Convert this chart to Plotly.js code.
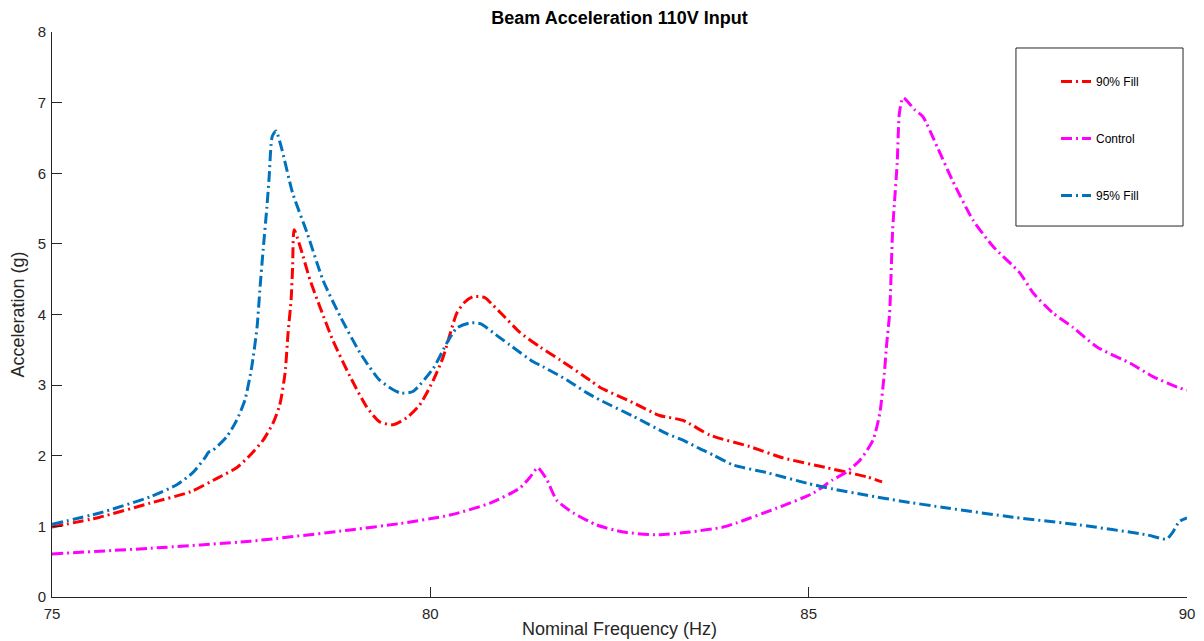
<!DOCTYPE html>
<html>
<head>
<meta charset="utf-8">
<script src="https://cdn.plot.ly/plotly-3.0.1.min.js"></script>
<style>
  html, body { margin: 0; padding: 0; background: #ffffff; }
  #chart { width: 1204px; height: 641px; }
</style>
</head>
<body>
<div id="chart"></div>
<script>
// ---- Data ----
const fill90_x = [75, 75.63, 76.3, 76.83, 77.18, 77.44, 77.62, 77.79, 77.92, 78.01, 78.08, 78.12, 78.16, 78.18, 78.2, 78.28, 78.41, 78.54, 78.71, 78.94, 79.16, 79.33, 79.51, 79.69, 79.86, 80.04, 80.17, 80.35, 80.45, 80.56, 80.72, 80.83, 80.96, 81.18, 81.45, 81.71, 82.11, 82.24, 82.68, 83.03, 83.34, 83.7, 84.22, 84.66, 85.24, 85.77, 85.97];
const fill90_y = [0.99, 1.13, 1.33, 1.49, 1.68, 1.83, 2.01, 2.22, 2.46, 2.72, 3.17, 3.74, 4.21, 4.67, 5.2, 4.96, 4.49, 4.11, 3.64, 3.12, 2.69, 2.48, 2.44, 2.54, 2.72, 3.07, 3.4, 4.02, 4.17, 4.25, 4.24, 4.13, 3.99, 3.75, 3.54, 3.36, 3.07, 2.97, 2.75, 2.57, 2.5, 2.29, 2.13, 1.97, 1.83, 1.70, 1.63];

const control_x = [75, 76.3, 77.62, 78.94, 79.6, 80.26, 80.79, 81.18, 81.32, 81.42, 81.54, 81.67, 81.89, 82.2, 82.55, 83.0, 83.43, 83.87, 84.05, 84.58, 85.06, 85.32, 85.5, 85.68, 85.85, 85.94, 86.0, 86.03, 86.07, 86.11, 86.17, 86.2, 86.25, 86.4, 86.51, 86.7, 86.9, 87.17, 87.44, 87.79, 87.97, 88.23, 88.49, 88.81, 89.25, 89.55, 89.9, 90];
const control_y = [0.61, 0.69, 0.79, 0.95, 1.04, 1.16, 1.33, 1.54, 1.70, 1.83, 1.66, 1.37, 1.19, 1.02, 0.92, 0.88, 0.92, 0.99, 1.05, 1.26, 1.47, 1.66, 1.77, 1.94, 2.22, 2.6, 3.17, 3.57, 4.02, 5.2, 6.15, 6.86, 7.07, 6.9, 6.8, 6.37, 5.9, 5.34, 4.96, 4.59, 4.3, 4.02, 3.82, 3.54, 3.31, 3.12, 2.96, 2.93];

const fill95_x = [75, 75.63, 76.3, 76.65, 76.86, 77.02, 77.07, 77.13, 77.31, 77.44, 77.55, 77.64, 77.71, 77.75, 77.79, 77.84, 77.87, 77.91, 77.96, 78.04, 78.18, 78.37, 78.58, 78.81, 79.07, 79.33, 79.6, 79.77, 80.04, 80.22, 80.35, 80.52, 80.66, 80.92, 81.05, 81.36, 81.49, 81.81, 82.07, 82.24, 82.68, 83.13, 83.34, 83.56, 83.74, 84.0, 84.45, 84.98, 85.32, 85.77, 86.21, 86.83, 87.7, 88.58, 89.47, 89.73, 89.8, 89.9, 90];
const fill95_y = [1.03, 1.19, 1.42, 1.59, 1.76, 1.97, 2.05, 2.08, 2.27, 2.5, 2.79, 3.26, 3.82, 4.39, 4.91, 5.52, 5.95, 6.52, 6.6, 6.33, 5.72, 5.16, 4.49, 3.97, 3.46, 3.07, 2.89, 2.91, 3.24, 3.6, 3.81, 3.88, 3.87, 3.67, 3.57, 3.33, 3.26, 3.07, 2.89, 2.79, 2.56, 2.31, 2.22, 2.1, 2.01, 1.87, 1.76, 1.61, 1.53, 1.44, 1.36, 1.26, 1.13, 1.02, 0.88, 0.82, 0.9, 1.07, 1.12];

const seriesNames = ["90% Fill", "Control", "95% Fill"];
const seriesColors = ["#FF0000", "#FF00FF", "#0072BD"];
const xTicks = [75, 80, 85, 90];
const yTicks = [0, 1, 2, 3, 4, 5, 6, 7, 8];

const dashStyle = "11px,4px,2px,4px";
const xs = [fill90_x, control_x, fill95_x];
const ys = [fill90_y, control_y, fill95_y];

const traces = xs.map((x, i) => ({
  type: "scatter",
  mode: "lines",
  x: x,
  y: ys[i],
  name: seriesNames[i],
  legendgroup: "g" + i,
  line: { color: seriesColors[i], width: 3, dash: dashStyle, shape: "spline", smoothing: 0.6 }
}));

const axisColor = "#262626";
const layout = {
  width: 1204,
  height: 641,
  paper_bgcolor: "#ffffff",
  plot_bgcolor: "#ffffff",
  margin: { l: 52, r: 17, t: 32, b: 44 },
  font: { family: "Liberation Sans, Arial, sans-serif", color: axisColor },
  title: {
    text: "<b>Beam Acceleration 110V Input</b>",
    font: { size: 18, color: "#000000" },
    x: 0.5, xref: "paper", xanchor: "center",
    y: 0.972, yref: "container", yanchor: "middle"
  },
  xaxis: {
    range: [75, 90],
    tickvals: xTicks,
    ticktext: xTicks.map(String),
    ticks: "inside",
    ticklen: 10,
    tickcolor: axisColor,
    showgrid: false,
    zeroline: false,
    showline: true,
    linecolor: axisColor,
    linewidth: 1,
    mirror: false,
    ticklabelstandoff: 3,
    tickfont: { size: 15, color: axisColor },
    title: { text: "Nominal Frequency (Hz)", font: { size: 18, color: axisColor }, standoff: 1 }
  },
  yaxis: {
    range: [0, 8],
    tickvals: yTicks,
    ticktext: yTicks.map(String),
    ticks: "inside",
    ticklen: 10,
    tickcolor: axisColor,
    showgrid: false,
    zeroline: false,
    showline: true,
    linecolor: axisColor,
    linewidth: 1,
    mirror: false,
    ticklabelstandoff: 2,
    tickfont: { size: 15, color: axisColor },
    title: { text: "Acceleration (g)", font: { size: 18, color: axisColor }, standoff: 8 }
  },
  shapes: [{
    type: "rect", xref: "paper", yref: "paper",
    x0: 0.8493, x1: 0.9965, y0: 0.6566, y1: 0.9717,
    line: { color: "#262626", width: 1 },
    fillcolor: "rgba(255,255,255,0)",
    layer: "above"
  }],
  showlegend: true,
  legend: {
    x: 0.8846, xanchor: "left",
    y: 0.938, yanchor: "top",
    bgcolor: "rgba(255,255,255,0)",
    borderwidth: 0,
    font: { size: 12, color: "#000000" },
    traceorder: "grouped",
    tracegroupgap: 38,
    itemwidth: 30
  }
};

Plotly.newPlot("chart", traces, layout, { displayModeBar: false, staticPlot: true });
</script>
</body>
</html>
